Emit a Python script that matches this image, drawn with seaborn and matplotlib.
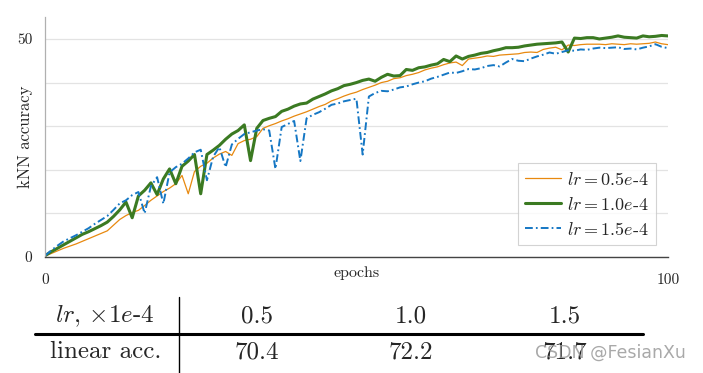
import numpy as np
import pandas as pd
import seaborn as sns
from matplotlib import pyplot as plt
from matplotlib.lines import Line2D

# kNN accuracy per epoch
epochs = list(range(0, 101))

acc_lr05 = [0.2, 0.8, 1.4, 2.0, 2.5, 3.0, 3.6, 4.2, 4.8, 5.4,
            6.0, 7.3, 8.6, 9.5, 10.2, 10.7, 11.8, 13.0, 14.0, 15.0,
            15.8, 16.8, 18.7, 14.5, 19.6, 20.8, 21.5, 22.7, 23.6, 24.2,
            23.3, 26.0, 26.7, 27.0, 27.6, 29.5, 30.1, 30.6, 31.2, 31.7,
            32.3, 32.8, 33.3, 33.9, 34.5, 35.0, 35.8, 36.3, 36.9, 37.4,
            37.8, 38.4, 38.9, 39.4, 40.0, 40.3, 40.9, 41.1, 41.6, 41.9,
            42.3, 42.9, 43.3, 43.6, 44.1, 44.5, 44.7, 43.9, 45.4, 45.6,
            45.8, 46.1, 46.0, 46.3, 46.4, 46.5, 46.6, 46.9, 47.0, 46.9,
            47.6, 47.9, 48.1, 47.5, 48.6, 48.5, 48.7, 48.8, 48.8, 48.8,
            48.7, 48.9, 48.8, 48.7, 48.9, 48.8, 48.9, 49.0, 49.3, 48.9,
            48.7]

acc_lr10 = [0.3, 1.2, 2.0, 2.8, 3.6, 4.4, 5.2, 5.8, 6.5, 7.2,
            8.0, 9.3, 10.8, 12.6, 9.0, 14.0, 15.3, 17.0, 14.3, 17.9,
            20.2, 16.8, 20.8, 22.0, 23.5, 14.5, 23.5, 24.5, 25.6, 27.0,
            28.2, 29.0, 30.3, 22.1, 29.5, 31.3, 31.8, 32.2, 33.4, 33.9,
            34.6, 35.1, 35.3, 36.2, 36.8, 37.4, 38.1, 38.6, 39.3, 39.6,
            40.0, 40.5, 40.8, 40.3, 41.2, 41.9, 41.5, 41.6, 43.0, 42.8,
            43.4, 43.6, 44.0, 44.3, 45.3, 44.8, 46.1, 45.4, 46.0, 46.3,
            46.7, 46.9, 47.3, 47.6, 48.0, 48.0, 48.1, 48.4, 48.6, 48.8,
            48.9, 49.0, 49.1, 49.3, 47.0, 50.2, 50.1, 50.3, 50.3, 50.0,
            50.2, 50.4, 50.7, 50.4, 50.3, 50.2, 50.7, 50.5, 50.6, 50.8,
            50.7]

acc_lr15 = [0.3, 1.5, 2.6, 3.6, 4.3, 5.0, 5.8, 6.6, 7.6, 8.5,
            9.4, 10.8, 12.3, 13.0, 14.2, 14.9, 10.0, 16.2, 18.3, 12.2,
            19.4, 20.6, 21.4, 22.6, 24.0, 24.6, 17.6, 23.0, 25.2, 20.6,
            25.8, 27.1, 28.2, 28.6, 29.0, 29.3, 29.0, 20.2, 29.8, 30.5,
            31.2, 22.0, 31.8, 32.6, 33.2, 34.0, 34.9, 35.2, 35.7, 36.0,
            36.3, 23.5, 36.8, 37.6, 38.1, 38.0, 38.4, 38.9, 39.1, 39.6,
            40.0, 40.3, 40.9, 41.3, 41.8, 42.3, 42.2, 42.6, 43.1, 43.0,
            43.3, 43.8, 44.0, 43.7, 44.6, 45.4, 45.0, 44.9, 45.5, 46.0,
            46.4, 46.9, 46.6, 47.0, 47.4, 47.3, 47.6, 47.5, 47.8, 48.0,
            47.9, 48.0, 48.1, 47.7, 47.8, 47.6, 48.0, 48.3, 48.8, 48.2,
            47.9]

series_labels = [r'$lr=0.5e$-4', r'$lr=1.0e$-4', r'$lr=1.5e$-4']

# table under the plot
table_header = r'$lr$, $\times 1e$-4'
table_row = 'linear acc.'
table_lr = ['0.5', '1.0', '1.5']
table_linear = ['70.4', '72.2', '71.7']

sns.set_theme(style="white")
plt.rcParams['font.family'] = ['cmr10', 'DejaVu Serif']
plt.rcParams['mathtext.fontset'] = 'cm'
plt.rcParams['axes.unicode_minus'] = False

colors = ['#E8890F', '#3B7A22', '#1577C4']
widths = [0.9, 2.2, 1.4]
dashes = ['-', '-', (0, (4.0, 1.6, 0.9, 1.6))]

fig = plt.figure(figsize=(7.03, 3.73), dpi=100)
ax = fig.add_axes([0.064, 0.311, 0.886, 0.643])

for vals, lab, c, lw, ls in zip([acc_lr05, acc_lr10, acc_lr15], series_labels,
                                colors, widths, dashes):
    df = pd.DataFrame({'epoch': epochs, 'acc': vals})
    sns.lineplot(data=df, x='epoch', y='acc', ax=ax, color=c, linewidth=lw,
                 linestyle=ls, label=lab)

ax.set_xlim(0, 100)
ax.set_ylim(0, 55)
ax.set_xticks([0, 20, 40, 60, 80, 100])
ax.set_xticklabels(['0', '', '', '', '', '100'])
ax.set_yticks([0, 10, 20, 30, 40, 50])
ax.set_yticklabels(['0', '', '', '', '', '50'])
ax.yaxis.grid(True, color='#e3e3e3', linewidth=0.9)
ax.xaxis.grid(False)
ax.tick_params(axis='x', direction='out', length=4, width=0.8, pad=7.5,
               labelsize=11, color='#444444')
ax.tick_params(axis='y', direction='out', length=4, width=0.8, pad=5,
               labelsize=11, color='#888888')
for side in ['top', 'right']:
    ax.spines[side].set_visible(False)
ax.spines['left'].set_color('#b0b0b0')
ax.spines['bottom'].set_color('#444444')
ax.spines['left'].set_linewidth(0.9)
ax.spines['bottom'].set_linewidth(1.0)

ax.set_xlabel('epochs', fontsize=11.5)
ax.set_ylabel('kNN accuracy', fontsize=12)
ax.xaxis.set_label_coords(0.5, -0.04)
ax.yaxis.set_label_coords(-0.019, 0.5)

leg = ax.legend(loc='lower right', bbox_to_anchor=(0.981, 0.05),
                borderaxespad=0, fontsize=13, frameon=True, fancybox=False,
                handlelength=2.0, handletextpad=0.3, labelspacing=0.45,
                borderpad=0.4, edgecolor='#c8c8c8')
leg.get_frame().set_linewidth(0.8)

# table
fs = 18
fig.text(0.149, 0.1354, table_header, fontsize=fs, ha='center', va='baseline')
fig.text(0.151, 0.0389, table_row, fontsize=fs, ha='center', va='baseline')
col_x = [0.366, 0.585, 0.803]
for x, a, b in zip(col_x, table_lr, table_linear):
    fig.text(x, 0.1354, a, fontsize=fs, ha='center', va='baseline')
    fig.text(x, 0.0389, b, fontsize=fs, ha='center', va='baseline')
fig.add_artist(Line2D([0.050, 0.915], [0.105, 0.105], color='black',
                      linewidth=2.2, transform=fig.transFigure))
fig.add_artist(Line2D([0.2546, 0.2546], [0.0, 0.204], color='black',
                      linewidth=1.0, transform=fig.transFigure))

fig.text(0.761, 0.042, 'CSDN @FesianXu', fontsize=12.5, ha='left',
         va='baseline', color='#9a9a9a', alpha=0.85, family=['DejaVu Sans'])

fig.savefig('out.png', dpi=100)
